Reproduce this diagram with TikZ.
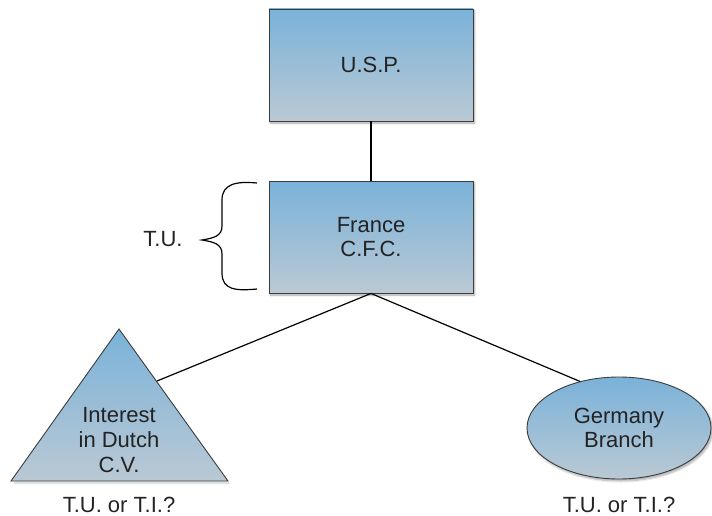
\documentclass[tikz,border=0pt]{standalone}
\usepackage{fontspec}
\setmainfont{Liberation Sans}
\usetikzlibrary{shapes.geometric,shadows.blur}
\definecolor{topblue}{RGB}{122,178,217}
\definecolor{botblue}{RGB}{186,201,212}
\definecolor{edgegray}{RGB}{60,60,60}
\definecolor{txt}{RGB}{35,35,35}
\tikzset{
  entity/.style={draw=edgegray, line width=0.9pt, top color=topblue, bottom color=botblue,
    blur shadow={shadow xshift=1.5pt, shadow yshift=-2pt, shadow blur steps=6, shadow opacity=35},
    text=txt, align=center, inner sep=0pt, font=\fontsize{22}{24}\selectfont},
  corp/.style={entity, rectangle, minimum width=204pt, minimum height=112pt},
  branch/.style={entity, ellipse, minimum width=184pt, minimum height=102pt},
  label/.style={text=txt, align=center, font=\fontsize{22}{25}\selectfont},
  link/.style={line width=1.2pt, black}
}
\begin{document}
\begin{tikzpicture}[x=1pt,y=-1pt]
\useasboundingbox (0,0) rectangle (712,516);

% corporations
\node[corp] (usp) at (371,65) {U.S.P.};
\node[corp] (fr) at (371,237) {France\\C.F.C.};

% hybrid entity drawn as a triangle
\coordinate (apex) at (119,329);
\coordinate (bl) at (11,481);
\coordinate (br) at (228,481);
\fill[black!35, opacity=0.35] ([shift={(2,3)}]apex) -- ([shift={(2,3)}]bl) -- ([shift={(2,3)}]br) -- cycle;
\draw[draw=edgegray, line width=0.9pt, top color=topblue, bottom color=botblue] (apex) -- (bl) -- (br) -- cycle;
\node[label] (cv) at (119,440) {Interest\\in Dutch\\C.V.};
\coordinate (cvtop) at (157,381);

% branch
\node[branch] (gb) at (619,428) {Germany\\Branch};

% connectors
\draw[link] (usp.south) -- (fr.north);
\draw[link] (fr.south) -- (cvtop);
\draw[link] (fr.south) -- (gb.130);

% brace and labels
\draw[line width=1.2pt] (257,183) .. controls (236,181) and (222,184) .. (222,200) -- (222,226)
  .. controls (222,236) and (214,238) .. (202,240)
  .. controls (214,242) and (222,244) .. (222,254) -- (222,273)
  .. controls (222,290) and (236,291) .. (257,289);
\node[label] (tu) at (163,239) {T.U.};
\node[label] (q1) at (119,505) {T.U. or T.I.?};
\node[label] (q2) at (619,505) {T.U. or T.I.?};
\end{tikzpicture}
\end{document}
